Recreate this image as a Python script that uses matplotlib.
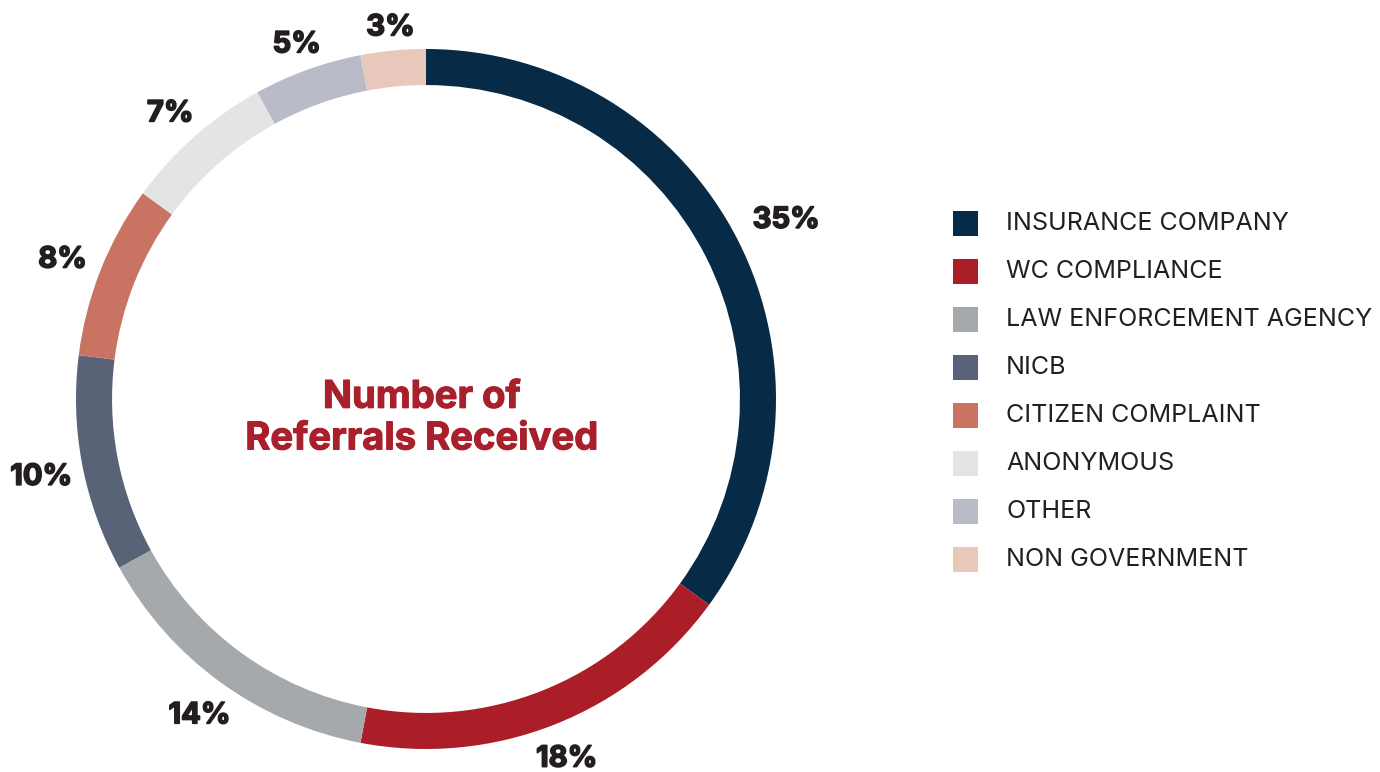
import numpy as np
import matplotlib.pyplot as plt
import matplotlib.patheffects as pe
from matplotlib.patches import Rectangle

# referral sources, clockwise from the top
sources = ["INSURANCE COMPANY", "WC COMPLIANCE", "LAW ENFORCEMENT AGENCY", "NICB",
           "CITIZEN COMPLAINT", "ANONYMOUS", "OTHER", "NON GOVERNMENT"]
shares = [35, 18, 14, 10, 8, 7, 5, 3]
colors = ["#072b47", "#ab1e27", "#a6a9ac", "#586378",
          "#c97462", "#e3e4e3", "#b9bcc8", "#e8c8bb"]
center_title = "Number of\nReferrals Received"

plt.rcParams['font.family'] = ['Inter', 'DejaVu Sans']

W, H = 1380, 772
fig = plt.figure(figsize=(W / 100, H / 100), dpi=100)

# donut axes: center (426, 399) px, radius 350 px
cx, cy, r = 426, 399, 350
ax = fig.add_axes([(cx - r) / W, (H - cy - r) / H, 2 * r / W, 2 * r / H])
heavy = [pe.withStroke(linewidth=1.2, foreground='#231f20')]
wedges, texts = ax.pie(shares, colors=colors, startangle=90, counterclock=False,
                       radius=1.0, wedgeprops=dict(width=0.103, linewidth=0),
                       labels=[f"{s}%" for s in shares], labeldistance=1.1,
                       textprops=dict(fontsize=21, fontweight='bold', color='#231f20'))
# push labels out a bit more where they sit beside the ring (wide text)
for i, (w, t) in enumerate(zip(wedges, texts)):
    ang = np.deg2rad((w.theta1 + w.theta2) / 2)
    dist = 1.075 + 0.045 * abs(np.cos(ang))
    if i == 0:
        dist = 1.155
    t.set_position((dist * np.cos(ang), dist * np.sin(ang) - 0.014))
    t.set_ha('center')
    t.set_va('center')
    t.set_path_effects(heavy)

ax.set_xlim(-1, 1)
ax.set_ylim(-1, 1)
ax.set_aspect('equal')
ax.axis('off')

ax.text(-0.012, -0.056, center_title, ha='center', va='center', fontsize=27.5,
        fontweight='bold', color='#a91f2b', linespacing=1.2,
        path_effects=[pe.withStroke(linewidth=0.8, foreground='#a91f2b')])

# legend, drawn by hand
row0, step = 224, 48
for i, (name, col) in enumerate(zip(sources, colors)):
    y = row0 + i * step
    fig.patches.append(Rectangle((953 / W, 1 - (y - 1 + 12.5) / H), 25 / W, 25 / H,
                                 transform=fig.transFigure, color=col, linewidth=0))
    fig.text(1006 / W, 1 - y / H, name, ha='left', va='center', fontsize=18,
             color='#231f20')

fig.savefig("out.png", dpi=100)
